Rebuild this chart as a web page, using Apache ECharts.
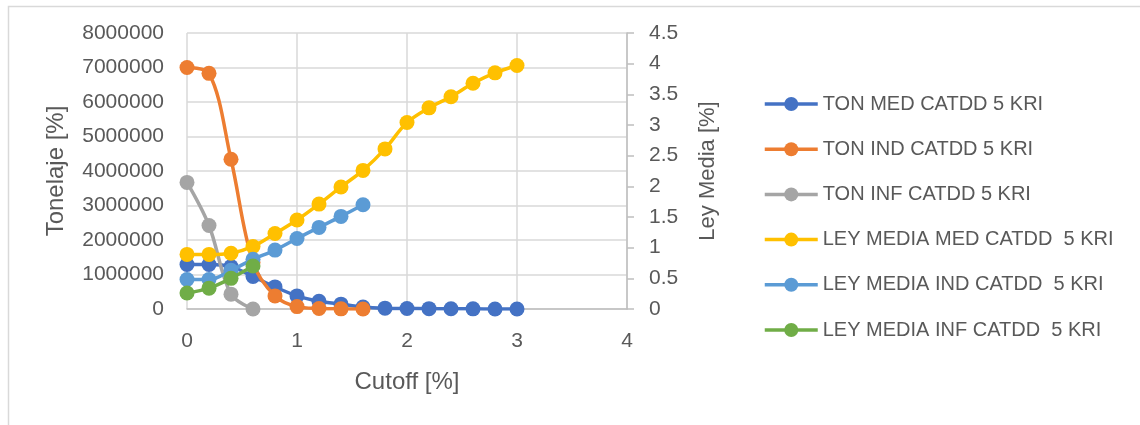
<!DOCTYPE html>
<html>
<head>
<meta charset="utf-8">
<script src="https://cdn.jsdelivr.net/npm/echarts@6/dist/echarts.min.js"></script>
<style>
html,body{margin:0;padding:0;background:#fff;}
#chart{width:1140px;height:425px;}
</style>
</head>
<body>
<div id="chart"></div>
<script>
// ---- data ----
const cutoff = [0, 0.2, 0.4, 0.6, 0.8, 1.0, 1.2, 1.4, 1.6, 1.8, 2.0, 2.2, 2.4, 2.6, 2.8, 3.0];
const tonMed = [1290000, 1290000, 1230000, 940000, 640000, 380000, 225000, 140000, 60000, 25000, 15000, 10000, 6000, 4000, 2000, 1000];
const tonInd = [7000000, 6830000, 4340000, 1350000, 380000, 70000, 15000, 5000, 2000];
const tonInf = [3670000, 2420000, 430000, 0];
const leyMed = [0.89, 0.89, 0.91, 1.02, 1.23, 1.45, 1.71, 1.99, 2.26, 2.61, 3.04, 3.28, 3.46, 3.68, 3.85, 3.97];
const leyInd = [0.48, 0.48, 0.63, 0.81, 0.96, 1.15, 1.33, 1.51, 1.70];
const leyInf = [0.26, 0.34, 0.50, 0.70];
const seriesNames = ['TON MED CATDD 5 KRI', 'TON IND CATDD 5 KRI', 'TON INF CATDD 5 KRI',
  'LEY MEDIA MED CATDD  5 KRI', 'LEY MEDIA IND CATDD  5 KRI', 'LEY MEDIA INF CATDD  5 KRI'];
const xTicks = [0, 1, 2, 3, 4];

const colors = ['#4472C4', '#ED7D31', '#A5A5A5', '#FFC000', '#5B9BD5', '#70AD47'];
const pair = (vals) => vals.map((v, i) => [cutoff[i], v]);
const dataSets = [tonMed, tonInd, tonInf, leyMed, leyInd, leyInf];
const txt = '#595959';
const font = 'Liberation Sans';

const chart = echarts.init(document.getElementById('chart'));
chart.setOption({
  animation: false,
  color: colors,
  textStyle: { fontFamily: font },
  graphic: [{
    type: 'rect', left: 6, top: 4, silent: true,
    shape: { width: 1150, height: 440 },
    style: { fill: 'none', stroke: '#d9d9d9', lineWidth: 1.5 }
  }],
  grid: { left: 187, right: 513, top: 33, bottom: 116 },
  legend: {
    orient: 'vertical', left: 763, top: 94, padding: 0,
    itemWidth: 53, itemHeight: 17.5, itemGap: 25.2,
    lineStyle: { width: 3.5 },
    textStyle: { color: txt, fontSize: 20, fontFamily: font, lineHeight: 20 },
    data: seriesNames
  },
  xAxis: {
    type: 'value', min: 0, max: 4, interval: 1,
    name: 'Cutoff [%]', nameLocation: 'middle', nameGap: 61,
    nameTextStyle: { color: txt, fontSize: 24, fontFamily: font },
    axisLine: { show: true, onZero: false, lineStyle: { color: '#bfbfbf', width: 1.5 } },
    axisTick: { show: false },
    axisLabel: { color: txt, fontSize: 21, margin: 22, formatter: (v) => xTicks.includes(v) ? String(v) : '' },
    splitLine: { show: true, lineStyle: { color: '#d9d9d9', width: 1.5 } }
  },
  yAxis: [{
    type: 'value', min: 0, max: 8000000, interval: 1000000, position: 'left',
    name: 'Tonelaje [%]', nameLocation: 'middle', nameGap: 119, nameRotate: 90,
    nameTextStyle: { color: txt, fontSize: 24, fontFamily: font },
    axisLine: { show: false },
    axisTick: { show: false },
    axisLabel: { color: txt, fontSize: 21, margin: 23, formatter: (v) => String(v) },
    splitLine: { show: true, lineStyle: { color: '#d9d9d9', width: 1.5 } }
  }, {
    type: 'value', min: 0, max: 4.5, interval: 0.5, position: 'right',
    name: 'Ley Media [%]', nameLocation: 'middle', nameGap: 70, nameRotate: 90,
    nameTextStyle: { color: txt, fontSize: 22, fontFamily: font, verticalAlign: 'top' },
    axisLine: { show: true, lineStyle: { color: '#bfbfbf', width: 1.5 } },
    axisTick: { show: true, length: 7, lineStyle: { color: '#bfbfbf', width: 1.5 } },
    axisLabel: { color: txt, fontSize: 21, margin: 22, formatter: (v) => String(v) },
    splitLine: { show: false }
  }],
  series: seriesNames.map((name, i) => ({
    name: name,
    type: 'line',
    yAxisIndex: i < 3 ? 0 : 1,
    data: pair(dataSets[i]),
    smooth: 0.35,
    symbol: 'circle',
    symbolSize: 15,
    showAllSymbol: true,
    lineStyle: { width: 3.5, color: colors[i] },
    itemStyle: { color: colors[i] },
    z: 2 + i * 0.01
  }))
});
</script>
</body>
</html>
